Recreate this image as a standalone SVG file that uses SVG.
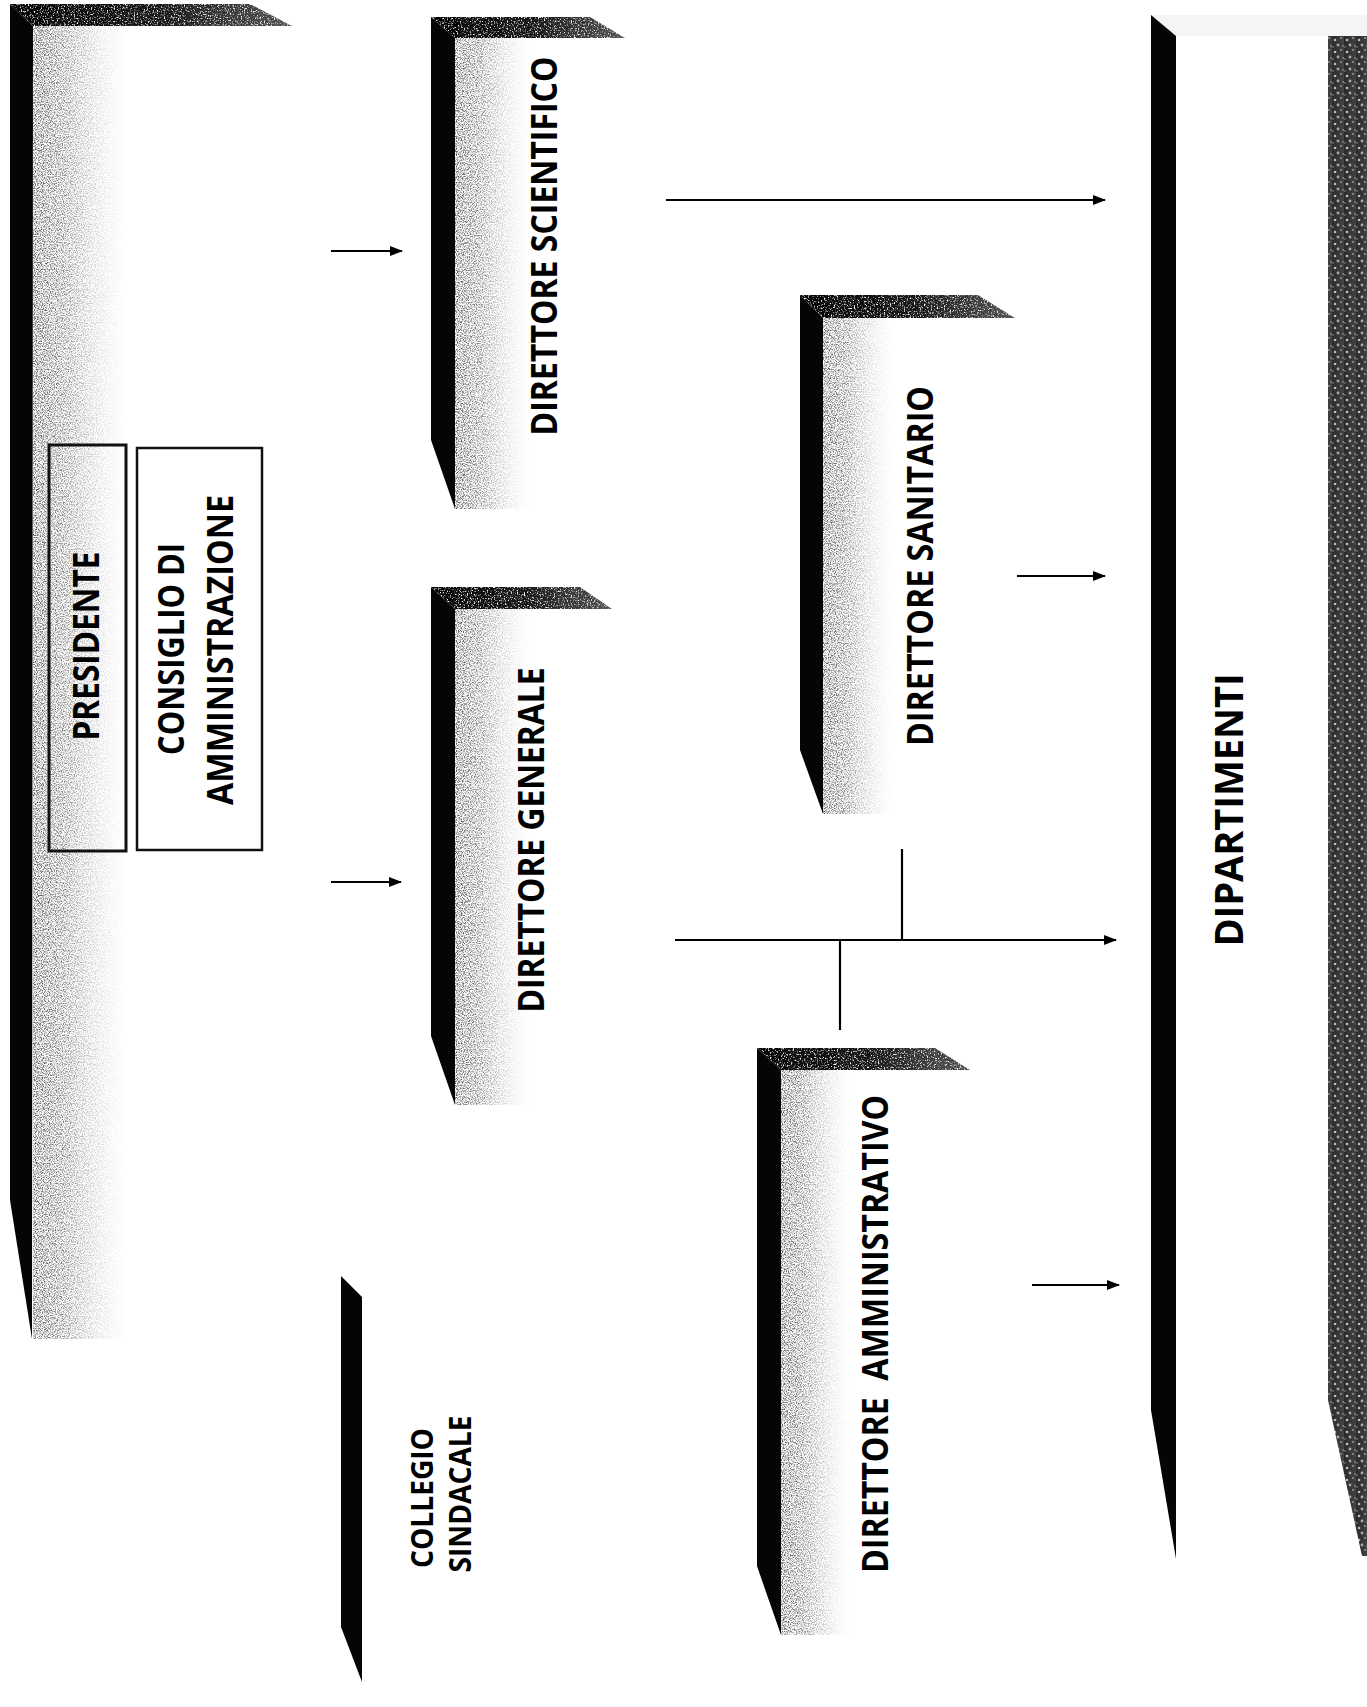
<svg xmlns="http://www.w3.org/2000/svg" width="1367" height="1707" viewBox="0 0 1367 1707">
<style>
.lbl{font-family:"Liberation Sans Narrow","Open Sans","Liberation Sans",sans-serif;font-weight:bold;font-size:35px;fill:#000;text-anchor:middle}
.bar{fill:#050505}
.top{fill:url(#topg);filter:url(#grain2)}
.shade{fill:url(#shadeg);filter:url(#grain)}
.conn{stroke:#000;stroke-width:2.2;fill:none}
.box{fill:none;stroke:#111;stroke-width:3}
</style>
<defs>
<filter id="grain" x="0" y="0" width="1" height="1">
<feTurbulence type="fractalNoise" baseFrequency="0.85" numOctaves="2" seed="7" result="n"/>
<feColorMatrix in="n" type="matrix" values="0 0 0 0 0  0 0 0 0 0  0 0 0 0 0  3 0 0 0 -1.2" result="m"/>
<feComposite in="SourceGraphic" in2="m" operator="in"/>
</filter>
<filter id="grain2" x="0" y="0" width="1" height="1">
<feTurbulence type="fractalNoise" baseFrequency="0.7" numOctaves="2" seed="3" result="n"/>
<feColorMatrix in="n" type="matrix" values="0 0 0 0 0  0 0 0 0 0  0 0 0 0 0  4 0 0 0 -0.9" result="m"/>
<feComposite in="SourceGraphic" in2="m" operator="in"/>
</filter>
<linearGradient id="topg" x1="0" y1="0" x2="1" y2="0">
<stop offset="0" stop-color="#000"/><stop offset="0.55" stop-color="#1a1a1a"/><stop offset="1" stop-color="#555"/>
</linearGradient>
<linearGradient id="shadeg" x1="0" y1="0" x2="1" y2="0">
<stop offset="0" stop-color="#555"/><stop offset="0.35" stop-color="#888"/><stop offset="1" stop-color="#ccc" stop-opacity="0"/>
</linearGradient>
<linearGradient id="darkcol" x1="0" y1="0" x2="1" y2="0">
<stop offset="0" stop-color="#2a2a2a"/><stop offset="1" stop-color="#444"/>
</linearGradient>
<pattern id="spk" width="12" height="12" patternUnits="userSpaceOnUse">
<rect width="12" height="12" fill="url(#darkcol)"/>
<circle cx="3" cy="4" r="1.3" fill="#bbb"/><circle cx="9" cy="2" r="1" fill="#999"/>
<circle cx="6" cy="9" r="1.4" fill="#aaa"/><circle cx="11" cy="10" r="0.9" fill="#888"/>
<circle cx="1" cy="11" r="0.8" fill="#999"/>
</pattern>
<marker id="ah" markerWidth="13" markerHeight="10" refX="12" refY="5" orient="auto" markerUnits="userSpaceOnUse">
<path d="M0,0 L13,5 L0,10 Z" fill="#000"/>
</marker>
</defs>

<g id="node-presidente-block">
<rect class="shade" x="33" y="26" width="95" height="1313"/>
<polygon class="top" points="10,4 250,4 292,26 33,26"/>
<polygon class="bar" points="10,4 33,26 32,1339 10,1200"/>
</g>

<g id="node-presidente">
<rect class="box" x="49" y="445" width="77" height="406"/>
<text class="lbl" transform="translate(87,646) rotate(-90)" y="12" textLength="189" lengthAdjust="spacingAndGlyphs">PRESIDENTE</text>
</g>

<g id="node-consiglio">
<rect x="137" y="448" width="125" height="402" fill="#fff" stroke="#111" stroke-width="2.5"/>
<text class="lbl" transform="translate(172,649) rotate(-90)" y="12" textLength="212" lengthAdjust="spacingAndGlyphs">CONSIGLIO DI</text>
<text class="lbl" transform="translate(221,650) rotate(-90)" y="12" textLength="310" lengthAdjust="spacingAndGlyphs">AMMINISTRAZIONE</text>
</g>

<g id="node-direttore-scientifico">
<rect class="shade" x="455" y="38" width="75" height="471"/>
<polygon class="top" points="431,17 590,17 625,38 455,38"/>
<polygon class="bar" points="431,17 455,38 455,509 431,440"/>
<text class="lbl" transform="translate(545,246) rotate(-90)" y="12" textLength="379" lengthAdjust="spacingAndGlyphs">DIRETTORE SCIENTIFICO</text>
</g>

<g id="node-direttore-generale">
<rect class="shade" x="455" y="609" width="75" height="496"/>
<polygon class="top" points="431,587 580,587 612,609 455,609"/>
<polygon class="bar" points="431,587 455,609 455,1105 431,1036"/>
<text class="lbl" transform="translate(532,840) rotate(-90)" y="12" textLength="345" lengthAdjust="spacingAndGlyphs">DIRETTORE GENERALE</text>
</g>

<g id="node-direttore-sanitario">
<rect class="shade" x="823" y="318" width="70" height="496"/>
<polygon class="top" points="800,295 978,295 1015,318 823,318"/>
<polygon class="bar" points="800,295 823,318 823,814 800,750"/>
<text class="lbl" transform="translate(921,566) rotate(-90)" y="12" textLength="360" lengthAdjust="spacingAndGlyphs">DIRETTORE SANITARIO</text>
</g>

<g id="node-direttore-amministrativo">
<rect class="shade" x="781" y="1070" width="70" height="565"/>
<polygon class="top" points="757,1048 935,1048 970,1070 781,1070"/>
<polygon class="bar" points="757,1048 781,1070 781,1635 757,1566"/>
<text class="lbl" transform="translate(877,1334) rotate(-90)" y="11" textLength="478" lengthAdjust="spacingAndGlyphs" xml:space="preserve">DIRETTORE  AMMINISTRATIVO</text>
</g>

<g id="node-collegio-sindacale">
<polygon class="bar" points="341,1276 362,1297 362,1682 341,1627"/>
<text class="lbl" transform="translate(422,1498) rotate(-90)" y="11" textLength="140" lengthAdjust="spacingAndGlyphs" style="font-size:31px">COLLEGIO</text>
<text class="lbl" transform="translate(460,1494) rotate(-90)" y="11" textLength="157" lengthAdjust="spacingAndGlyphs" style="font-size:31px">SINDACALE</text>
</g>

<g id="node-dipartimenti">
<polygon points="1151,15 1367,15 1367,36 1176,36" fill="#f5f5f5"/>
<polygon class="bar" points="1151,15 1176,36 1176,1559 1151,1410"/>
<polygon points="1328,36 1367,36 1367,1556 1362,1556 1328,1400" fill="url(#spk)"/>
<text class="lbl" transform="translate(1229,810) rotate(-90)" y="14" textLength="273" lengthAdjust="spacingAndGlyphs" style="font-size:39px">DIPARTIMENTI</text>
</g>

<g id="connectors">
<line class="conn" x1="331" y1="251" x2="402" y2="251" marker-end="url(#ah)"/>
<line class="conn" x1="331" y1="882" x2="401" y2="882" marker-end="url(#ah)"/>
<line class="conn" x1="666" y1="200" x2="1105" y2="200" marker-end="url(#ah)"/>
<line class="conn" x1="1017" y1="576" x2="1105" y2="576" marker-end="url(#ah)"/>
<line class="conn" x1="675" y1="940" x2="1116" y2="940" marker-end="url(#ah)"/>
<line class="conn" x1="902" y1="849" x2="902" y2="940"/>
<line class="conn" x1="840" y1="940" x2="840" y2="1030"/>
<line class="conn" x1="1032" y1="1285" x2="1119" y2="1285" marker-end="url(#ah)"/>
</g>
</svg>
